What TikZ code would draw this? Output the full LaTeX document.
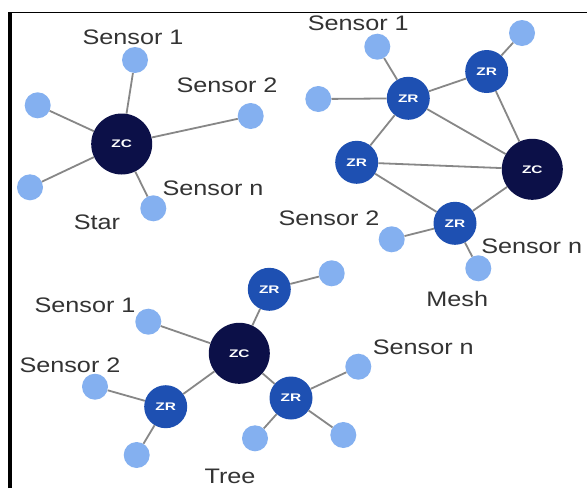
\documentclass[tikz,border=0pt]{standalone}
\usepackage{fontspec}
\newfontfamily\labfont[FakeStretch=1.2]{Liberation Sans}
\newfontfamily\tagfont[FakeStretch=1.4]{Liberation Sans Bold}
\definecolor{zcnavy}{RGB}{12,16,72}
\definecolor{zrblue}{RGB}{30,80,178}
\definecolor{sensblue}{RGB}{132,176,240}
\definecolor{linkgray}{RGB}{135,135,135}
\tikzset{
  zc/.style={circle, fill=zcnavy, minimum size=61pt, inner sep=0pt,
    text=white, font=\tagfont\fontsize{11}{11}\selectfont},
  zr/.style={circle, fill=zrblue, minimum size=43pt, inner sep=0pt,
    text=white, font=\tagfont\fontsize{11}{11}\selectfont},
  sensor/.style={circle, fill=sensblue, minimum size=26pt, inner sep=0pt},
  lbl/.style={font=\labfont\fontsize{21}{24}\selectfont, text=black!80, inner sep=0pt},
  link/.style={draw=linkgray, line width=1.8pt},
}
\begin{document}
\begin{tikzpicture}[x=1pt,y=-1pt]
\useasboundingbox (0,0) rectangle (587,488);
\fill[white] (0,0) rectangle (587,488);

% frame: heavy left rule and thin top rule
\coordinate (fl) at (10,488);
\coordinate (ftl) at (10,12.5);
\coordinate (ft0) at (8.2,12.5);
\coordinate (ftr) at (587,12.5);
\draw[line width=3.6pt] (fl) -- (ftl);
\draw[line width=1.2pt] (ft0) -- (ftr);

% ---------- Star ----------
\node[zc] (szc) at (121.7,144) {ZC};
\node[sensor] (s1) at (135,60) {};
\node[sensor] (s2) at (250.7,116) {};
\node[sensor] (s3) at (37.7,105.3) {};
\node[sensor] (s4) at (30,187.3) {};
\node[sensor] (s5) at (153.3,208.3) {};
\foreach \s in {s1,s2,s3,s4,s5} \draw[link] (szc) -- (\s);
\node[lbl] (sl1) at (133,37) {Sensor 1};
\node[lbl] (sl2) at (227,85) {Sensor 2};
\node[lbl] (sln) at (213,188) {Sensor n};
\node[lbl] (slt) at (97,222) {Star};

% ---------- Mesh ----------
\node[zc] (mzc) at (532.3,169.3) {ZC};
\node[zr] (mr1) at (408.3,98.3) {ZR};
\node[zr] (mr2) at (486.7,71.5) {ZR};
\node[zr] (mr3) at (356.7,162.3) {ZR};
\node[zr] (mr4) at (455,223.3) {ZR};
\node[sensor] (ma) at (377.3,46.7) {};
\node[sensor] (mb) at (522,33) {};
\node[sensor] (mc) at (318.3,99) {};
\node[sensor] (md) at (391.7,239.3) {};
\node[sensor] (me) at (478.3,268.3) {};
\draw[link] (ma) -- (mr1);
\draw[link] (mc) -- (mr1);
\draw[link] (mr1) -- (mr2);
\draw[link] (mb) -- (mr2);
\draw[link] (mr2) -- (mzc);
\draw[link] (mr1) -- (mzc);
\draw[link] (mr1) -- (mr3);
\draw[link] (mr3) -- (mzc);
\draw[link] (mr3) -- (mr4);
\draw[link] (mr4) -- (mzc);
\draw[link] (mr4) -- (md);
\draw[link] (mr4) -- (me);
\node[lbl] (ml1) at (358.3,23.3) {Sensor 1};
\node[lbl] (ml2) at (329,218) {Sensor 2};
\node[lbl] (mln) at (531.7,246.7) {Sensor n};
\node[lbl] (mlt) at (457.3,299.3) {Mesh};

% ---------- Tree ----------
\node[zc] (tzc) at (239.3,353.3) {ZC};
\node[zr] (tr1) at (269.3,289.3) {ZR};
\node[zr] (tr2) at (165.7,406.7) {ZR};
\node[zr] (tr3) at (291,398) {ZR};
\node[sensor] (ta) at (331.7,273.3) {};
\node[sensor] (tb) at (148.3,321.7) {};
\node[sensor] (tc) at (95,386.7) {};
\node[sensor] (td) at (136.7,455) {};
\node[sensor] (te) at (255,438.3) {};
\node[sensor] (tf) at (358.3,366.7) {};
\node[sensor] (tg) at (343.3,435) {};
\draw[link] (tzc) -- (tr1);
\draw[link] (tr1) -- (ta);
\draw[link] (tzc) -- (tb);
\draw[link] (tzc) -- (tr2);
\draw[link] (tzc) -- (tr3);
\draw[link] (tr2) -- (tc);
\draw[link] (tr2) -- (td);
\draw[link] (tr3) -- (te);
\draw[link] (tr3) -- (tf);
\draw[link] (tr3) -- (tg);
\node[lbl] (tl1) at (85,305) {Sensor 1};
\node[lbl] (tl2) at (70,365) {Sensor 2};
\node[lbl] (tln) at (423.3,347.3) {Sensor n};
\node[lbl] (tlt) at (230,476) {Tree};
\end{tikzpicture}
\end{document}
